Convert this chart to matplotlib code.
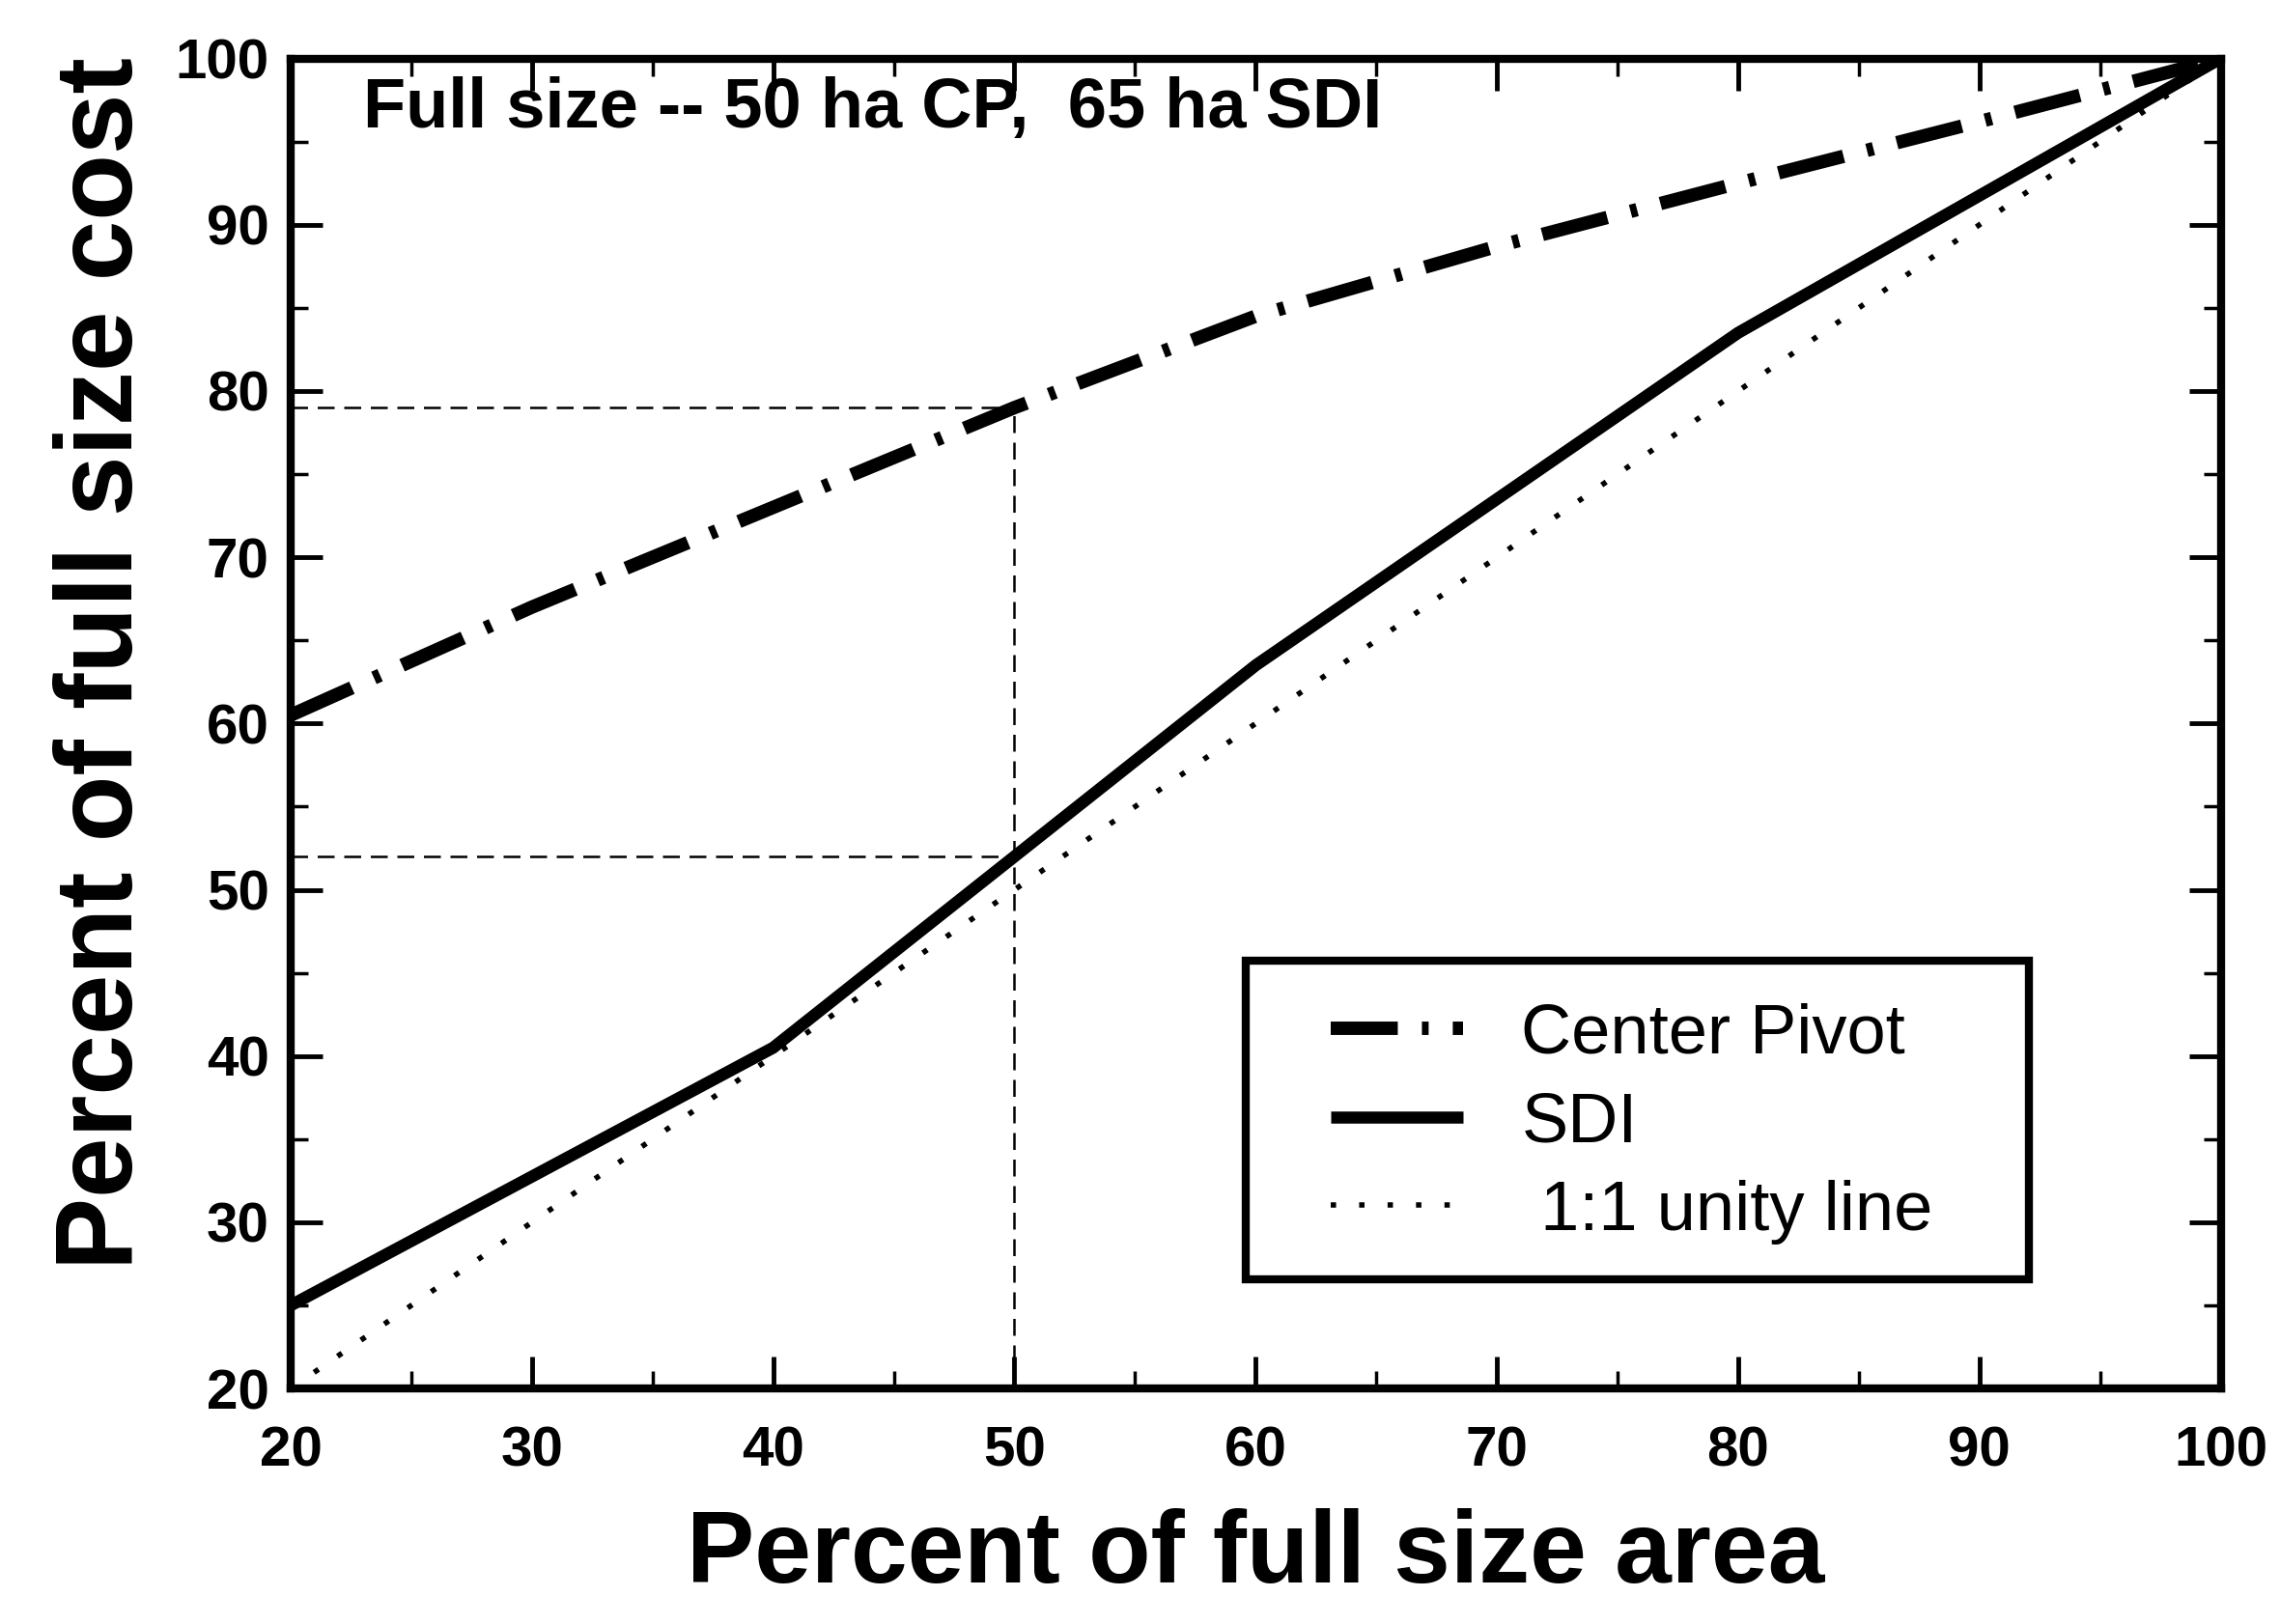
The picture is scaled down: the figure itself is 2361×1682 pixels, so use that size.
import matplotlib
matplotlib.use("Agg")
import matplotlib.pyplot as plt
from matplotlib.ticker import MultipleLocator
from matplotlib.patches import Rectangle

# ---- data ----
cp_area = [20, 30, 40, 50, 60, 70, 80, 90, 100]
cp_cost = [60.5, 67, 73, 79, 84.5, 88.7, 92.5, 96.2, 100]
sdi_area = [20, 40, 50, 60, 80, 100]
sdi_cost = [25, 40.5, 52, 63.5, 83.5, 100]
unity_area = [20, 100]
unity_cost = [20, 100]
ref_x = 50
ref_cp = 79
ref_sdi = 52
xticks = [20, 30, 40, 50, 60, 70, 80, 90, 100]
yticks = [20, 30, 40, 50, 60, 70, 80, 90, 100]
labels = ["Center Pivot", "SDI", " 1:1 unity line"]
note = "Full size -- 50 ha CP,  65 ha SDI"
xlabel = "Percent of full size area"
ylabel = "Percent of full size cost"

plt.rcParams['font.family'] = ['Liberation Sans', 'DejaVu Sans']

fig = plt.figure(figsize=(23.61, 16.82), dpi=100)
ax = fig.add_axes([0.1275, 0.145, 0.8465, 0.819])

ax.plot(cp_area, cp_cost, color='black', lw=10, dashes=(5.0, 1.8, 0.5, 1.8),
        solid_capstyle='butt', dash_capstyle='butt', label=labels[0])
ax.plot(sdi_area, sdi_cost, color='black', lw=9, solid_capstyle='butt',
        label=labels[1])
ax.plot(unity_area, unity_cost, color='black', lw=4, dashes=(1.0, 4.3),
        dash_capstyle='butt', label=labels[2])

# reference lines
ax.plot([xticks[0], ref_x], [ref_cp, ref_cp], color='black', lw=1.8, dashes=(7, 4))
ax.plot([xticks[0], ref_x], [ref_sdi, ref_sdi], color='black', lw=1.8, dashes=(7, 4))
ax.plot([ref_x, ref_x], [yticks[0], ref_cp], color='black', lw=1.8, dashes=(7, 4))

ax.set_xlim(20, 100)
ax.set_ylim(20, 100)
ax.set_xticks(xticks)
ax.set_yticks(yticks)
ax.xaxis.set_minor_locator(MultipleLocator(5))
ax.yaxis.set_minor_locator(MultipleLocator(5))
ax.tick_params(which='both', direction='in', top=True, right=True, color='black')
ax.tick_params(which='major', length=24, width=3.5)
ax.tick_params(which='minor', length=13, width=2.5)
ax.tick_params(axis='x', which='major', pad=28, labelsize=42)
ax.tick_params(axis='y', which='major', pad=16, labelsize=42)
for lab in ax.get_xticklabels() + ax.get_yticklabels():
    lab.set_fontweight('bold')

for s in ax.spines.values():
    s.set_linewidth(6)

ax.set_xlabel(xlabel, fontsize=76, fontweight='bold', labelpad=22)
ax.set_ylabel(ylabel, fontsize=81, fontweight='bold')
ax.yaxis.set_label_coords(-0.07, 0.545)

ax.text(0.0377, 0.962, note, transform=ax.transAxes, fontsize=52,
        fontweight='bold', ha='left', va='center')

# legend frame drawn as a box, legend entries inside it
box = Rectangle((0.495, 0.082), 0.4055, 0.24, transform=ax.transAxes,
                facecolor='white', edgecolor='black', linewidth=6, zorder=4)
ax.add_patch(box)
leg = ax.legend(loc='upper left', bbox_to_anchor=(0.539, 0.29),
                fontsize=52, frameon=False, handlelength=1.9,
                handletextpad=0.83, labelspacing=0.34, borderpad=0,
                borderaxespad=0)
leg.set_zorder(5)

fig.savefig("out.png", dpi=100, facecolor='white')
